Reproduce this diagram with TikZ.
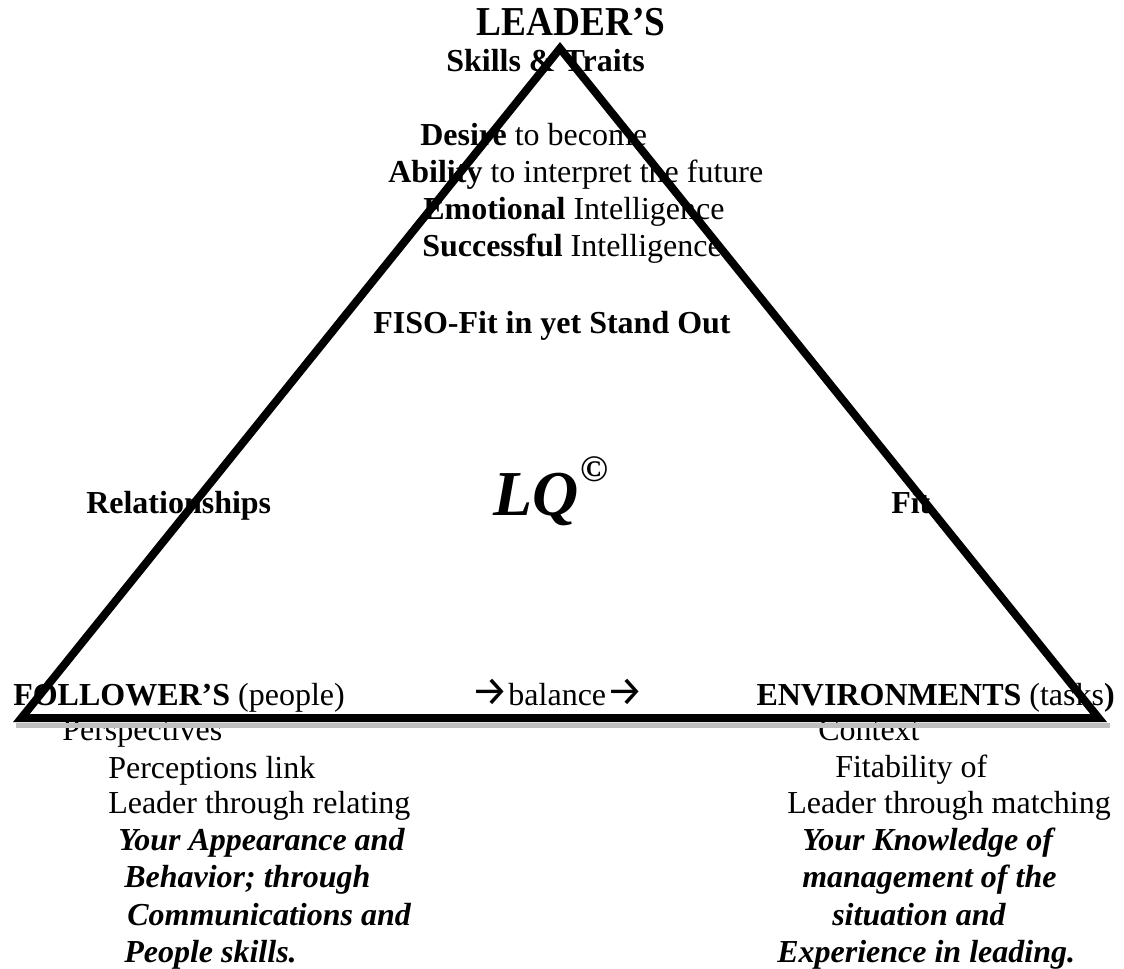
\documentclass[tikz,border=0pt]{standalone}
\usepackage{fontspec}
\setmainfont{Liberation Serif}
\newfontfamily\arrowfont{Fira Sans}
\newcommand{\balarrow}{{\arrowfont\fontsize{31}{31}\selectfont →}}
\begin{document}
\begin{tikzpicture}[x=0.75pt,y=-0.75pt,
  txt/.style={anchor=base west, inner sep=0pt, font=\fontsize{24}{27.75}\selectfont},
  txtr/.style={txt, anchor=base east},
  head/.style={anchor=base, inner sep=0pt, font=\fontsize{28}{32}\selectfont\bfseries},
  bigtxt/.style={anchor=base west, inner sep=0pt, font=\fontsize{48}{52}\selectfont\bfseries\itshape},
  tri/.style={line width=6pt, line join=miter, black},
  shadowline/.style={line width=3.8pt, color=black!25}]
\useasboundingbox (0,0) rectangle (1124,969);
% top
\node[head] (leader) at (571,36) {\scalebox{1}[1.1]{LEADER’S}};
\node[txt] (skills) at (446,72) {\textbf{Skills \& Traits}};
\node[txt] (desire) at (420,146) {\textbf{Desire} to become};
\node[txt] (ability) at (388,183) {\textbf{Ability} to interpret the future};
\node[txt] (emot) at (423,220) {\textbf{Emotional} Intelligence};
\node[txt] (succ) at (422,257) {\textbf{Successful} Intelligence};
\node[txt] (fiso) at (373,334) {\textbf{FISO-Fit in yet Stand Out}};
% middle
\node[txt] (rel) at (86,513) {\textbf{Relationships}};
\node[bigtxt] (lq) at (493,515) {LQ};
\node[txt, font=\fontsize{28}{30}\selectfont\bfseries] (copy) at (580,482) {©};
\node[txt] (fit) at (891,513) {\textbf{Fit}};
% bottom row
\node[txt] (foll) at (13,705) {\textbf{FOLLOWER’S} (people)};
\node[txt] (bal) at (471,705) {\balarrow balance\balarrow};
\node[txtr] (env) at (1115,705) {\textbf{ENVIRONMENTS} (tasks\textbf{)}};
% left column
\node[txt] (l1) at (62,740) {Perspectives};
\node[txt] (l2) at (108,778) {Perceptions link};
\node[txt] (l3) at (108,813) {Leader through relating};
\node[txt] (l4) at (118,850) {\textbf{\textit{Your Appearance and}}};
\node[txt] (l5) at (124,887) {\textbf{\textit{Behavior; through}}};
\node[txt] (l6) at (127,925) {\textbf{\textit{Communications and}}};
\node[txt] (l7) at (124,962) {\textbf{\textit{People skills.}}};
% right column
\node[txt] (r1) at (818,740) {Context};
\node[txt] (r2) at (835,777) {Fitability of};
\node[txt] (r3) at (787,813) {Leader through matching};
\node[txt] (r4) at (802,850) {\textbf{\textit{Your Knowledge of}}};
\node[txt] (r5) at (802,887) {\textbf{\textit{management of the}}};
\node[txt] (r6) at (832,925) {\textbf{\textit{situation and}}};
\node[txt] (r7) at (777,962) {\textbf{\textit{Experience in leading.}}};
% triangle
\coordinate (apex) at (560,48.4);
\coordinate (bl) at (21.4,718);
\coordinate (br) at (1098.6,718);
\coordinate (sl) at (16,725.5);
\coordinate (sr) at (1110,725.5);
\draw[shadowline] (sl) -- (sr);
\draw[tri] (apex) -- (br) -- (bl) -- cycle;
\end{tikzpicture}
\end{document}
